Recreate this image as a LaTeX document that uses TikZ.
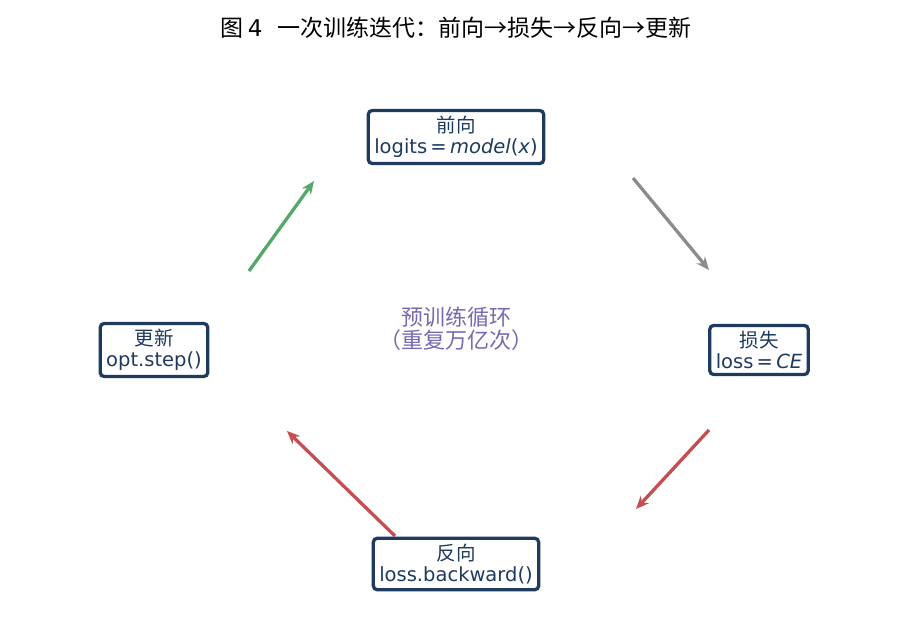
\documentclass[tikz,border=0pt]{standalone}
\usepackage{fontspec}
\setmainfont{DejaVu Sans}
\newfontfamily\cjk{Noto Sans CJK SC}
\usetikzlibrary{arrows.meta}
\definecolor{navy}{HTML}{1F3A5F}
\definecolor{purp}{HTML}{7B68B0}
\definecolor{grn}{HTML}{55A868}
\definecolor{gry}{HTML}{8C8C8C}
\definecolor{rd}{HTML}{C44E52}
\begin{document}
\begin{tikzpicture}[x=1pt,y=-1pt,
 box/.style={draw=navy,line width=3.3pt,rounded corners=4pt,fill=white,text=navy,align=center,font=\fontsize{19.5}{20.5}\selectfont,inner sep=6pt},
 arr/.style={line width=3.3pt,-{Stealth[length=13pt,width=11pt]}}]
\useasboundingbox (0,0) rectangle (913,642);
\node (title) at (456,28) {\fontsize{23}{26}\selectfont{\cjk 图}\,4\ \ {\cjk 一次训练迭代：前向→损失→反向→更新}};
\node[box] (fwd) at (456,137) {{\cjk 前向}\\logits\,=\,\textit{model}(\textit{x})};
\node[box] (loss) at (759,350) {{\cjk 损失}\\loss\,=\,\textit{CE}};
\node[box] (bwd) at (456,564) {{\cjk 反向}\\loss.backward()};
\node[box] (upd) at (154,350) {{\cjk 更新}\\opt.step()};
\node[text=purp,align=center,font=\fontsize{22}{23}\selectfont] (ctr) at (456,329) {{\cjk 预训练循环}\\{\cjk （重复万亿次）}};
\coordinate (a1) at (249,271); \coordinate (a2) at (314,181);
\coordinate (b1) at (633,178); \coordinate (b2) at (709,270);
\coordinate (c1) at (709,430); \coordinate (c2) at (636,509);
\coordinate (d1) at (395,536); \coordinate (d2) at (287,431);
\draw[arr,grn] (a1) -- (a2);
\draw[arr,gry] (b1) -- (b2);
\draw[arr,rd] (c1) -- (c2);
\draw[arr,rd] (d1) -- (d2);
\end{tikzpicture}
\end{document}
